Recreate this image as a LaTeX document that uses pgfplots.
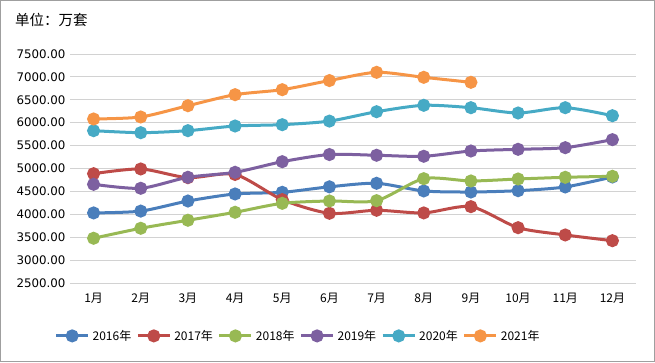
\documentclass[border=0pt]{standalone}
\usepackage{fontspec}
\setmainfont{Noto Sans CJK SC}
\newfontfamily\dejavu{DejaVu Sans}
\usepackage{pgfplots}
\pgfplotsset{compat=1.18}
\definecolor{c16}{HTML}{4A7EBB}
\definecolor{c17}{HTML}{BE4B48}
\definecolor{c18}{HTML}{98B954}
\definecolor{c19}{HTML}{7D60A0}
\definecolor{c20}{HTML}{46AAC5}
\definecolor{c21}{HTML}{F69546}
\begin{document}
\begin{tikzpicture}[x=1pt,y=1pt]
\draw[gray!75, line width=1.3pt] (0.65,0.65) rectangle (654.35,361.35);
\node[anchor=west,font=\fontsize{14.5}{16}\selectfont,inner sep=0pt] at (15,342) {单位：万套};
\begin{axis}[
  anchor=south west, at={(70pt,79pt)},
  scale only axis, width=566pt, height=229pt,
  xmin=0.5, xmax=12.5, ymin=2500, ymax=7500,
  xtick={1,...,12},
  xticklabels={1月,2月,3月,4月,5月,6月,7月,8月,9月,10月,11月,12月},
  ytick={2500,3000,...,7500},
  /pgf/number format/assume math mode=true,
  y tick label style={/pgf/number format/fixed, /pgf/number format/fixed zerofill, /pgf/number format/precision=2, /pgf/number format/1000 sep={}, font=\dejavu\fontsize{11.8}{13}\selectfont, xshift=-1pt},
  x tick label style={font=\fontsize{12}{14}\selectfont, yshift=-7pt},
  ymajorgrids, grid style={draw=gray!35, line width=0.9pt},
  axis line style={draw=none}, major tick style={draw=none},
  every axis plot/.append style={line width=3pt, smooth, tension=0.45, mark=*, mark size=5pt, mark options={solid}},
  legend columns=6,
  legend style={at={(0.403,-0.231)}, anchor=center, draw=none, fill=none,
    font=\fontsize{12}{14}\selectfont, column sep=1pt,
    /tikz/every even column/.append style={column sep=3pt}},
  legend image code/.code={\draw[mark repeat=2,mark phase=2,#1] plot coordinates {(0pt,0pt)(16pt,0pt)(32pt,0pt)};},
]
\addplot[c16] coordinates {(1,4030)(2,4070)(3,4290)(4,4444)(5,4480)(6,4600)(7,4677)(8,4510)(9,4487)(10,4516)(11,4597)(12,4815)};
\addlegendentry{2016年}
\addplot[c17] coordinates {(1,4887)(2,4990)(3,4800)(4,4870)(5,4320)(6,4022)(7,4088)(8,4030)(9,4167)(10,3708)(11,3549)(12,3424)};
\addlegendentry{2017年}
\addplot[c18] coordinates {(1,3477)(2,3695)(3,3870)(4,4044)(5,4240)(6,4291)(7,4298)(8,4778)(9,4728)(10,4771)(11,4808)(12,4830)};
\addlegendentry{2018年}
\addplot[c19] coordinates {(1,4655)(2,4568)(3,4808)(4,4917)(5,5149)(6,5305)(7,5289)(8,5267)(9,5382)(10,5419)(11,5455)(12,5630)};
\addlegendentry{2019年}
\addplot[c20] coordinates {(1,5826)(2,5782)(3,5826)(4,5928)(5,5957)(6,6035)(7,6240)(8,6380)(9,6328)(10,6212)(11,6328)(12,6153)};
\addlegendentry{2020年}
\addplot[c21] coordinates {(1,6081)(2,6125)(3,6371)(4,6612)(5,6721)(6,6920)(7,7100)(8,6991)(9,6882)};
\addlegendentry{2021年}
\end{axis}
\end{tikzpicture}
\end{document}
